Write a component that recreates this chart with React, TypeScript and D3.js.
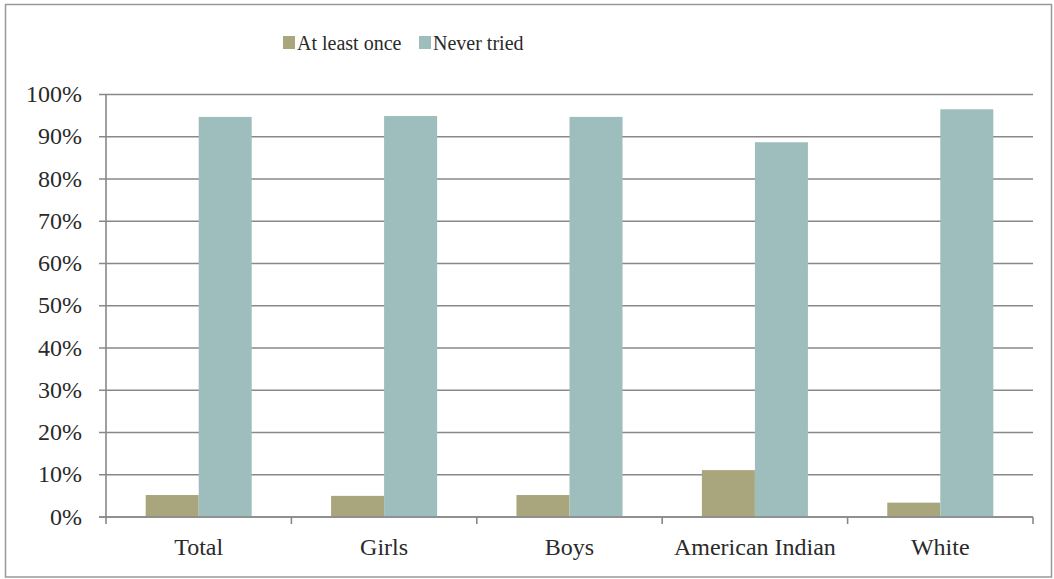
import React from "react";
import * as d3 from "d3";

const categories = ["Total", "Girls", "Boys", "American Indian", "White"];
const seriesNames = ["At least once", "Never tried"];
const atLeastOnce = [5.2, 5.0, 5.2, 11.1, 3.4];
const neverTried = [94.7, 94.9, 94.7, 88.7, 96.5];
const yTicks = [0, 10, 20, 30, 40, 50, 60, 70, 80, 90, 100];
const colors = ["#A9A57C", "#9DBEBD"];

const W = 1054;
const H = 579;
const left = 106;
const right = 1033;
const top = 94.5;
const bottom = 517;

export default function App() {
  const x = d3.scaleBand<string>().domain(categories).range([left, right]).padding(0);
  const y = d3.scaleLinear().domain([0, 100]).range([bottom, top]);
  const bw = x.bandwidth();
  const barW = bw * 0.286;
  const series = [atLeastOnce, neverTried];
  const font = "Liberation Serif, DejaVu Serif, serif";
  const textColor = "#2a2a2a";
  const gridColor = "#888888";

  const legendX = [283, 419];
  const ts = { fontFamily: font };

  return (
    <svg
      width={W}
      height={H}
      style={{ position: "absolute", left: 0, top: 0, background: "#fff" }}
    >
      <rect x={5.5} y={4.5} width={1046} height={572.5} fill="#fff" stroke="#999" strokeWidth={1.5} />
      {yTicks.map((t) => (
        <line key={"g" + t} x1={left - 7} x2={right} y1={y(t)} y2={y(t)} stroke={gridColor} strokeWidth={1.6} />
      ))}
      <line x1={left} x2={left} y1={top} y2={bottom} stroke={gridColor} strokeWidth={1.6} />
      {yTicks.map((t) => (
        <text
          key={"yl" + t}
          x={82}
          y={y(t)}
          dy="0.32em"
          textAnchor="end"
          fontSize={24}
          fill={textColor}
          style={ts}
        >
          {t}%
        </text>
      ))}
      {categories.map((c, i) => {
        const cx = (x(c) as number) + bw / 2;
        return series.map((s, j) => (
          <rect
            key={c + j}
            x={cx - barW + j * barW}
            y={y(s[i])}
            width={barW}
            height={bottom - y(s[i])}
            fill={colors[j]}
          />
        ));
      })}
      <line x1={left - 7} x2={right} y1={bottom} y2={bottom} stroke={gridColor} strokeWidth={1.6} />
      {categories.map((c) => (
        <line
          key={"t" + c}
          x1={x(c) as number}
          x2={x(c) as number}
          y1={bottom}
          y2={bottom + 7}
          stroke={gridColor}
          strokeWidth={1.6}
        />
      ))}
      <line x1={right} x2={right} y1={bottom} y2={bottom + 7} stroke={gridColor} strokeWidth={1.6} />
      {categories.map((c) => (
        <text
          key={"xl" + c}
          x={(x(c) as number) + bw / 2}
          y={555}
          textAnchor="middle"
          fontSize={24}
          fill={textColor}
          style={ts}
        >
          {c}
        </text>
      ))}
      {seriesNames.map((n, j) => (
        <g key={n}>
          <rect x={legendX[j]} y={36} width={12} height={13} fill={colors[j]} />
          <text x={legendX[j] + 14} y={50} fontSize={20} fill={textColor} style={ts}>
            {n}
          </text>
        </g>
      ))}
    </svg>
  );
}
